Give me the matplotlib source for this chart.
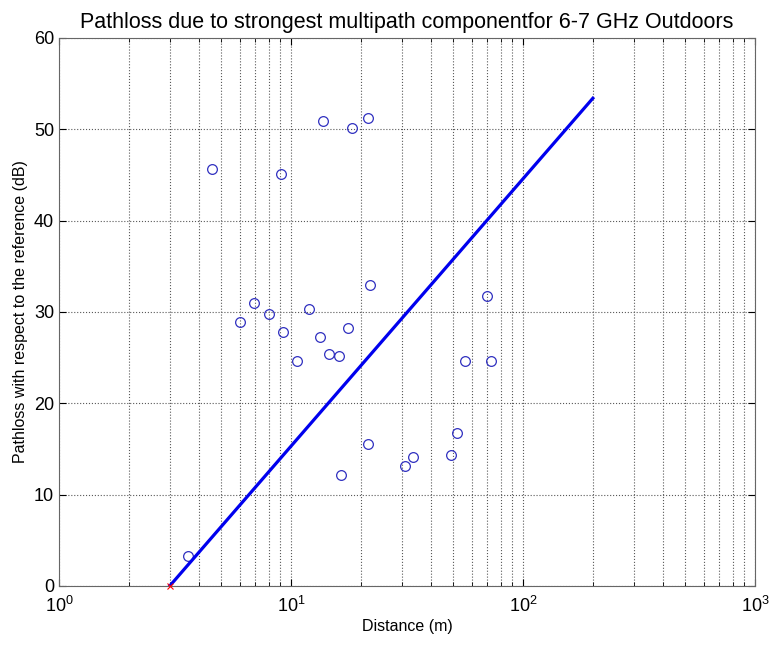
import matplotlib
matplotlib.use("Agg")
import matplotlib.pyplot as plt
from matplotlib.ticker import LogLocator, NullFormatter

plt.rcParams['font.family'] = ['Liberation Sans', 'DejaVu Sans']

# measured points (distance in m, pathloss in dB)
dist = [4.57, 9.10, 13.7, 18.3, 21.4, 21.9, 70.1, 6.94, 8.02, 6.02, 11.9, 9.22, 13.3,
        17.6, 14.6, 16.1, 10.6, 56.1, 72.9, 21.4, 51.7, 48.7, 33.5, 31.0, 16.5, 3.61]
loss = [45.7, 45.1, 50.9, 50.1, 51.2, 33.0, 31.8, 31.0, 29.8, 28.9, 30.3, 27.8, 27.3,
        28.3, 25.4, 25.2, 24.6, 24.6, 24.6, 15.6, 16.8, 14.3, 14.1, 13.1, 12.2, 3.3]

# fitted line
fit_d = [3, 200]
fit_pl = [0, 53.4]

# reference point
ref_d = [3]
ref_pl = [0]

fig = plt.figure(figsize=(7.69, 6.45), dpi=100)
ax = fig.add_axes([59/769, 1 - 586/645, (755-59)/769, (586-38)/645])

ax.plot(dist, loss, 'o', mfc='none', mec='#3030c0', ms=7, mew=0.9)
ax.plot(fit_d, fit_pl, '-', color='#0000ee', lw=2.3)
ax.plot(ref_d, ref_pl, 'x', color='red', ms=5, mew=0.8, clip_on=False, zorder=5)

ax.set_xscale('log')
ax.set_xlim(1, 1000)
ax.set_ylim(0, 60)
ax.set_yticks(range(0, 61, 10))
ax.xaxis.set_minor_locator(LogLocator(base=10, subs=range(2, 10)))
ax.xaxis.set_minor_formatter(NullFormatter())

ax.grid(True, which='major', ls=':', color='0.35', lw=0.8)
ax.grid(True, which='minor', axis='x', ls=':', color='0.35', lw=0.8)

ax.tick_params(which='both', direction='in', top=True, right=True, labelsize=13)
ax.tick_params(which='major', length=5)
ax.tick_params(which='minor', length=3)
ax.tick_params(axis='x', pad=7)
for s in ax.spines.values():
    s.set_color('0.4')
    s.set_linewidth(0.8)

ax.set_xlabel("Distance (m)", fontsize=11.5, labelpad=2)
ax.set_ylabel("Pathloss with respect to the reference (dB)", fontsize=11.5)
ax.set_title("Pathloss due to strongest multipath componentfor 6-7 GHz Outdoors",
             fontsize=15.5, pad=7)

fig.savefig("out.png", dpi=100)
